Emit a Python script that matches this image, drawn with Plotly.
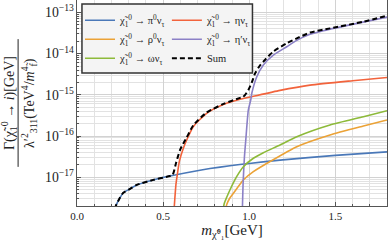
import plotly.graph_objects as go
import math

# ---- data ----
blue_x = [0.220, 0.225, 0.250, 0.269, 0.300, 0.347, 0.443, 0.540, 0.714, 0.772, 0.888, 1.000, 1.179, 1.500, 1.800]
blue_y = [1.7e-18, 2.0e-18, 3.2e-18, 4.2e-18, 5.0e-18, 6.5e-18, 8.6e-18, 1.07e-17, 1.48e-17, 1.62e-17, 1.90e-17, 2.16e-17, 2.60e-17, 3.39e-17, 4.12e-17]

red_x = [0.563, 0.568, 0.575, 0.582, 0.595, 0.617, 0.637, 0.675, 0.753, 0.850, 0.947, 1.005, 1.179, 1.353, 1.600, 1.800]
red_y = [1.5e-18, 3.0e-18, 7.0e-18, 1.13e-17, 2.5e-17, 5.0e-17, 8.0e-17, 1.68e-16, 3.56e-16, 5.8e-16, 7.8e-16, 8.8e-16, 1.28e-15, 1.72e-15, 2.2e-15, 2.63e-15]

orange_x = [0.863, 0.870, 0.885, 0.908, 0.966, 1.024, 1.121, 1.276, 1.469, 1.663, 1.800]
orange_y = [1.7e-18, 2.2e-18, 3.0e-18, 4.06e-18, 8.55e-18, 1.36e-17, 2.4e-17, 5.5e-17, 1.06e-16, 1.75e-16, 2.45e-16]

purple_x = [0.960, 0.965, 0.972, 0.980, 0.995, 1.009, 1.015, 1.044, 1.082, 1.140, 1.218, 1.276, 1.353, 1.430, 1.605, 1.800]
purple_y = [1.5e-18, 8.0e-18, 3.0e-17, 8.0e-17, 4.28e-16, 7.5e-16, 1.09e-15, 2.75e-15, 5.3e-15, 9.2e-15, 1.47e-14, 2.1e-14, 2.95e-14, 3.6e-14, 5.2e-14, 7.7e-14]

green_x = [0.848, 0.855, 0.870, 0.888, 0.927, 0.966, 1.024, 1.082, 1.179, 1.276, 1.469, 1.663, 1.800]
green_y = [1.6e-18, 2.3e-18, 3.3e-18, 4.9e-18, 1.03e-17, 1.8e-17, 2.88e-17, 3.94e-17, 6.05e-17, 9.6e-17, 1.85e-16, 2.94e-16, 4.1e-16]

sum_x = [0.220, 0.225, 0.250, 0.269, 0.300, 0.347, 0.443, 0.540, 0.555, 0.575, 0.598, 0.617, 0.637, 0.675, 0.753, 0.850,
         0.947, 0.963, 0.975, 0.995, 1.015, 1.034, 1.060, 1.082, 1.140, 1.218, 1.276, 1.353, 1.469, 1.663, 1.800]
sum_y = [1.7e-18, 2.0e-18, 3.2e-18, 4.2e-18, 5.0e-18, 6.5e-18, 8.6e-18, 1.07e-17, 1.13e-17, 2.2e-17, 4.57e-17, 6.5e-17, 9.2e-17, 1.81e-16, 3.72e-16, 6.0e-16,
         8.4e-16, 8.8e-16, 9.8e-16, 1.31e-15, 2.0e-15, 3.3e-15, 5.0e-15, 6.4e-15, 1.12e-14, 1.78e-14, 2.34e-14, 3.24e-14, 4.1e-14, 5.94e-14, 8.3e-14]

x_ticks = [0.0, 0.5, 1.0, 1.5]
x_range = [0.0, 1.8]
y_range = [2e-18, 2e-13]

FONT = "Liberation Serif"
CHI = "χ̃<sub>1</sub><sup>0</sup>"

series = [
    (blue_x, blue_y, "#4a78b8", CHI + " → π<sup>0</sup>ν<sub>τ</sub>", "legend"),
    (red_x, red_y, "#f2633c", CHI + " → ην<sub>τ</sub>", "legend2"),
    (orange_x, orange_y, "#eba236", CHI + " → ρ<sup>0</sup>ν<sub>τ</sub>", "legend"),
    (purple_x, purple_y, "#8b80c6", CHI + " → η′ν<sub>τ</sub>", "legend2"),
    (green_x, green_y, "#8dba3a", CHI + " → ων<sub>τ</sub>", "legend"),
]

fig = go.Figure()
for i, (xs, ys, col, name, lg) in enumerate(series):
    fig.add_trace(go.Scatter(x=xs, y=ys, mode="lines", name=name, legend=lg,
                             legendgroup="g%d" % i,
                             line=dict(color=col, width=1.6, shape="spline", smoothing=0.6)))
fig.add_trace(go.Scatter(x=sum_x, y=sum_y, mode="lines", name="Sum", legend="legend2",
                         legendgroup="gs",
                         line=dict(color="black", width=2, dash="5px,3px", shape="spline", smoothing=0.6)))

grid_major = "#d2d2d2"
grid_minor = "#e2e2e2"

leg_common = dict(y=0.972, xanchor="left", yanchor="top", bgcolor="rgba(0,0,0,0)",
                  font=dict(size=10.5, family=FONT, color="#222"), itemwidth=30, tracegroupgap=0)

fig.update_layout(
    width=390, height=249,
    margin=dict(l=77, r=3, t=0, b=43, autoexpand=False),
    paper_bgcolor="white", plot_bgcolor="white",
    font=dict(family=FONT, size=11, color="#222"),
    legend=dict(x=0.0097, **leg_common),
    legend2=dict(x=0.29, **leg_common),
    xaxis=dict(range=x_range, tickvals=x_ticks, ticktext=["%.1f" % v for v in x_ticks],
               showgrid=True, gridcolor=grid_major, gridwidth=1,
               minor=dict(dtick=0.1, showgrid=True, gridcolor=grid_minor, ticks="inside", ticklen=2, tickcolor="#555"),
               ticks="inside", ticklen=4, tickcolor="#555",
               showline=True, linecolor="#555", linewidth=1, mirror=True, zeroline=False,
               title=dict(text="<i>m</i><sub>χ̃⁰₁</sub>[GeV]", font=dict(size=15, family=FONT), standoff=2)),
    yaxis=dict(type="log", range=[math.log10(y_range[0]), math.log10(y_range[1])],
               dtick=1, exponentformat="power", showexponent="all",
               showgrid=True, gridcolor=grid_major, gridwidth=1,
               minor=dict(dtick="D1", showgrid=True, gridcolor=grid_minor, ticks="inside", ticklen=2, tickcolor="#555"),
               ticks="inside", ticklen=4, tickcolor="#555",
               showline=True, linecolor="#555", linewidth=1, mirror=True, zeroline=False),
    showlegend=True,
)

# legend box
fig.add_shape(type="rect", xref="paper", yref="paper", x0=0.016, x1=0.566, y0=0.646, y1=0.981,
              fillcolor="#f4f4f4", line=dict(color="#333", width=1.5), layer="above")

# y-axis title as a fraction
fig.add_annotation(xref="paper", yref="paper", x=-0.219, y=0.5, xanchor="center", yanchor="middle",
                   textangle=-90, showarrow=False,
                   text="Γ(" + CHI + " → <i>i</i>)[GeV]", font=dict(size=14, family=FONT))
fig.add_annotation(xref="paper", yref="paper", x=-0.155, y=0.5, xanchor="center", yanchor="middle",
                   textangle=-90, showarrow=False,
                   text="λ′<sup>2</sup><sub>311</sub>(TeV<sup>4</sup>/<i>m</i><sup>4</sup><sub>f̃</sub>)",
                   font=dict(size=14, family=FONT))
fig.add_shape(type="line", xref="paper", yref="paper", x0=-0.19, x1=-0.19, y0=0.19, y1=0.81,
              line=dict(color="#222", width=1))

fig.write_html("out.html", config={"displayModeBar": False},
               post_script="document.body.style.margin='0';")
